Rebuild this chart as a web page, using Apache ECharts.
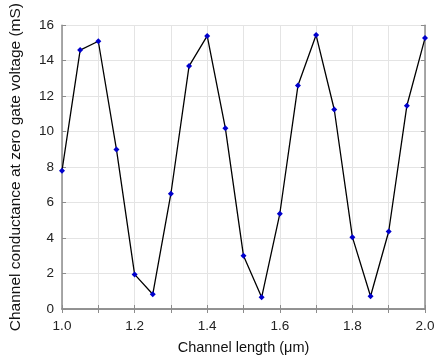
<!DOCTYPE html>
<html>
<head>
<meta charset="utf-8">
<script src="https://cdn.jsdelivr.net/npm/echarts@6/dist/echarts.min.js"></script>
<style>
  html, body { margin: 0; padding: 0; background: #fff; }
  #main { width: 443px; height: 362px; }
</style>
</head>
<body>
<div id="main"></div>
<script>
// channel length (um) and conductance (mS)
var lengths = [1.00, 1.05, 1.10, 1.15, 1.20, 1.25, 1.30, 1.35, 1.40, 1.45, 1.50,
  1.55, 1.60, 1.65, 1.70, 1.75, 1.80, 1.85, 1.90, 1.95, 2.00]
var conductance = [7.8, 14.6, 15.1, 9.0, 1.95, 0.83, 6.5, 13.7, 15.4, 10.2, 3.0,
  0.66, 5.37, 12.6, 15.45, 11.25, 4.05, 0.72, 4.37, 11.46, 15.28]

var xMin = 1.0
var xMax = 2.0
var yMin = 0
var yMax = 16

var points = lengths.map(function (x, i) { return [x, conductance[i]] })

var font = 'Arial, "Liberation Sans", sans-serif'
var axisColor = '#8c8c8c'
var gridColor = '#e4e4e4'

var myChart = echarts.init(document.getElementById('main'))

var option = {
  animation: false,
  backgroundColor: '#fff',
  grid: { left: 62, right: 18, top: 20, bottom: 53 },
  xAxis: [
    {
      type: 'value',
      min: xMin,
      max: xMax,
      interval: 0.1,
      name: 'Channel length (\u03bcm)',
      nameLocation: 'middle',
      nameGap: 31,
      nameTextStyle: { fontFamily: font, fontSize: 14.5, color: '#111' },
      axisLine: { lineStyle: { color: axisColor, width: 1.5 } },
      axisTick: { inside: true, length: 4, lineStyle: { color: axisColor } },
      axisLabel: {
        fontFamily: font,
        fontSize: 13.5,
        color: '#222',
        margin: 10,
        formatter: function (v) {
          return Math.round(v * 10) % 2 === 0 ? v.toFixed(1) : ''
        }
      },
      splitLine: { show: true, lineStyle: { color: gridColor } }
    },
    {
      type: 'value',
      position: 'top',
      min: xMin,
      max: xMax,
      interval: 0.1,
      axisLine: { lineStyle: { color: axisColor, width: 1.5 } },
      axisTick: { inside: true, length: 4, lineStyle: { color: axisColor } },
      axisLabel: { show: false },
      splitLine: { show: false }
    }
  ],
  yAxis: [
    {
      type: 'value',
      min: yMin,
      max: yMax,
      interval: 2,
      name: 'Channel conductance at zero gate voltage (mS)',
      nameLocation: 'middle',
      nameGap: 38,
      nameTextStyle: { fontFamily: font, fontSize: 15.5, color: '#111' },
      axisLine: { show: true, lineStyle: { color: axisColor, width: 1.5 } },
      axisTick: { show: true, inside: true, length: 4, lineStyle: { color: axisColor } },
      axisLabel: { fontFamily: font, fontSize: 13.5, color: '#222', margin: 8 },
      splitLine: { show: true, lineStyle: { color: gridColor } }
    },
    {
      type: 'value',
      position: 'right',
      min: yMin,
      max: yMax,
      interval: 2,
      axisLine: { show: true, lineStyle: { color: axisColor, width: 1.5 } },
      axisTick: { show: true, inside: true, length: 4, lineStyle: { color: axisColor } },
      axisLabel: { show: false },
      splitLine: { show: false }
    }
  ],
  series: [
    {
      type: 'line',
      data: points,
      symbol: 'diamond',
      symbolSize: 6,
      itemStyle: { color: '#0000cc' },
      lineStyle: { color: '#000', width: 1.3 }
    }
  ]
}

myChart.setOption(option)
</script>
</body>
</html>
